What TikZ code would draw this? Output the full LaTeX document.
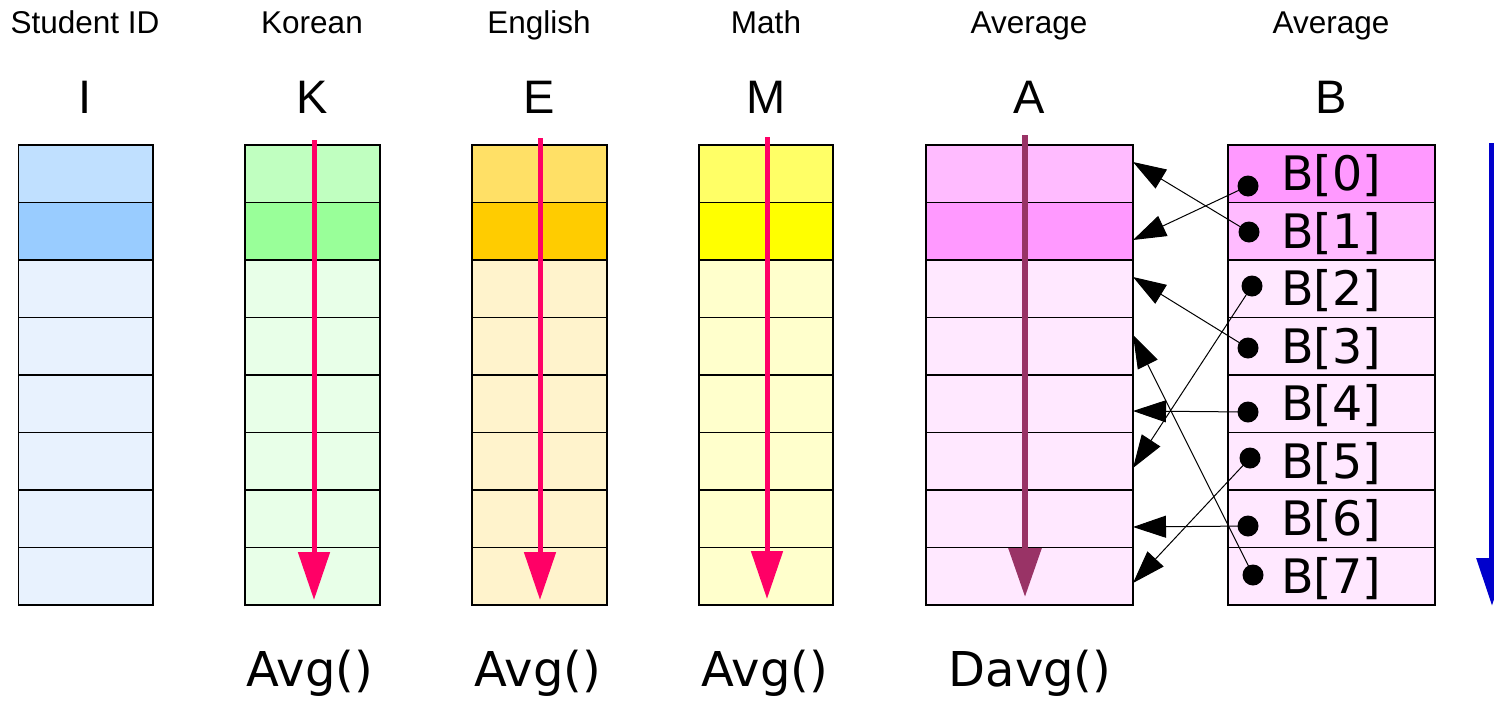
\documentclass[tikz,border=0pt]{standalone}
\usepackage{fontspec}
\setmainfont{Liberation Sans}
\newfontfamily\dejavu{DejaVu Sans}
\usetikzlibrary{arrows.meta}
\definecolor{Ia}{HTML}{C0E0FF}\definecolor{Ib}{HTML}{99CCFF}\definecolor{Ic}{HTML}{E8F2FE}
\definecolor{Ka}{HTML}{C0FFC0}\definecolor{Kb}{HTML}{99FF99}\definecolor{Kc}{HTML}{E8FFE8}
\definecolor{Ea}{HTML}{FFE066}\definecolor{Eb}{HTML}{FFCC00}\definecolor{Ec}{HTML}{FFF3CC}
\definecolor{Ma}{HTML}{FFFF66}\definecolor{Mb}{HTML}{FFFF00}\definecolor{Mc}{HTML}{FFFFCC}
\definecolor{Aa}{HTML}{FFBBFF}\definecolor{Ab}{HTML}{FF99FF}\definecolor{Ac}{HTML}{FFE8FF}
\definecolor{Ba}{HTML}{FF99FF}\definecolor{Bb}{HTML}{FFBBFF}\definecolor{Bc}{HTML}{FFE8FF}
\definecolor{hotpink}{HTML}{FF0066}
\definecolor{plum}{HTML}{993366}
\definecolor{deepblue}{HTML}{0000CC}
\begin{document}
\begin{tikzpicture}[x=1pt,y=-1pt,
  cell/.style={draw=black,line width=1.5pt,anchor=north west,inner sep=0pt,outer sep=0pt,minimum height=57.5pt},
  head/.style={anchor=base,inner sep=0pt,font=\fontsize{31.5}{38}\selectfont},
  letter/.style={anchor=base,inner sep=0pt,font=\fontsize{47}{56}\selectfont},
  func/.style={anchor=base,inner sep=0pt,font=\dejavu\fontsize{48}{58}\selectfont},
  blabel/.style={anchor=base,inner sep=0pt,font=\dejavu\fontsize{47.5}{57}\selectfont},
  dotnode/.style={circle,fill=black,inner sep=0pt,minimum size=21pt},
  scanarrow/.style={line width=5pt,hotpink,-{Triangle[length=48pt,width=31pt]}},
  avgarrow/.style={line width=6pt,plum,-{Triangle[length=49pt,width=32pt]}},
  bluearrow/.style={line width=6pt,deepblue,-{Triangle[length=48pt,width=30pt]}},
  maparrow/.style={line width=1pt,black,-{Triangle[length=33pt,width=22pt]}}]
\useasboundingbox[fill=white] (0,0) rectangle (1494,702);
% cells
\foreach \c/\x/\w in {I/18.5/134.5,K/245/135,E/472/135,M/699/134,A/926/207,B/1228/207}{
  \node[cell,minimum width=\w pt,fill=\c a] (\c0) at (\x,145) {};
  \node[cell,minimum width=\w pt,fill=\c b] (\c1) at (\x,202.5) {};
  \foreach \r in {2,...,7}{
    \node[cell,minimum width=\w pt,fill=\c c] (\c\r) at (\x,{145+\r*57.5}) {};
  }
}
% headers
\node[head] (hI) at (85,33) {Student ID};
\node[head] (hK) at (312,33) {Korean};
\node[head] (hE) at (539,33) {English};
\node[head] (hM) at (766,33) {Math};
\node[head] (hA) at (1029,33) {Average};
\node[head] (hB) at (1331,33) {Average};
\node[letter] (lI) at (85,113) {I};
\node[letter] (lK) at (312,113) {K};
\node[letter] (lE) at (539,113) {E};
\node[letter] (lM) at (766,113) {M};
\node[letter] (lA) at (1029,113) {A};
\node[letter] (lB) at (1331,113) {B};
% functions
\node[func] (fK) at (310,686) {Avg()};
\node[func] (fE) at (538,686) {Avg()};
\node[func] (fM) at (765,686) {Avg()};
\node[func] (fA) at (1030,686) {Davg()};
% scan arrows
\coordinate (ks) at (314,140); \coordinate (ke) at (314,600);
\coordinate (es) at (540,138); \coordinate (ee) at (540,600);
\coordinate (ms) at (767,137); \coordinate (me) at (767,599);
\coordinate (as) at (1025,135); \coordinate (ae) at (1025,597);
\coordinate (bs) at (1492,143); \coordinate (be) at (1492,606);
\draw[scanarrow] (ks) -- (ke);
\draw[scanarrow] (es) -- (ee);
\draw[scanarrow] (ms) -- (me);
\draw[avgarrow] (as) -- (ae);
\draw[bluearrow] (bs) -- (be);
% B labels and dots
\foreach \r/\dx/\dy in {0/1248/186,1/1249/232,2/1252/286,3/1248/348,4/1248/412,5/1250/458,6/1248/526,7/1253/575}{
  \node[blabel] (bl\r) at (1331,{145+\r*57.5+28.75+17}) {B[\r]};
  \node[dotnode] (d\r) at (\dx,\dy) {};
}
% targets on A's right edge
\coordinate (t0) at (1133,240);
\coordinate (t1) at (1133,162);
\coordinate (t2) at (1133,468);
\coordinate (t3) at (1133,277);
\coordinate (t4) at (1133,411);
\coordinate (t5) at (1133,583);
\coordinate (t6) at (1133,527);
\coordinate (t7) at (1133,335);
\foreach \r in {0,...,7}{
  \draw[maparrow] (d\r.center) -- (t\r);
}
\end{tikzpicture}
\end{document}
